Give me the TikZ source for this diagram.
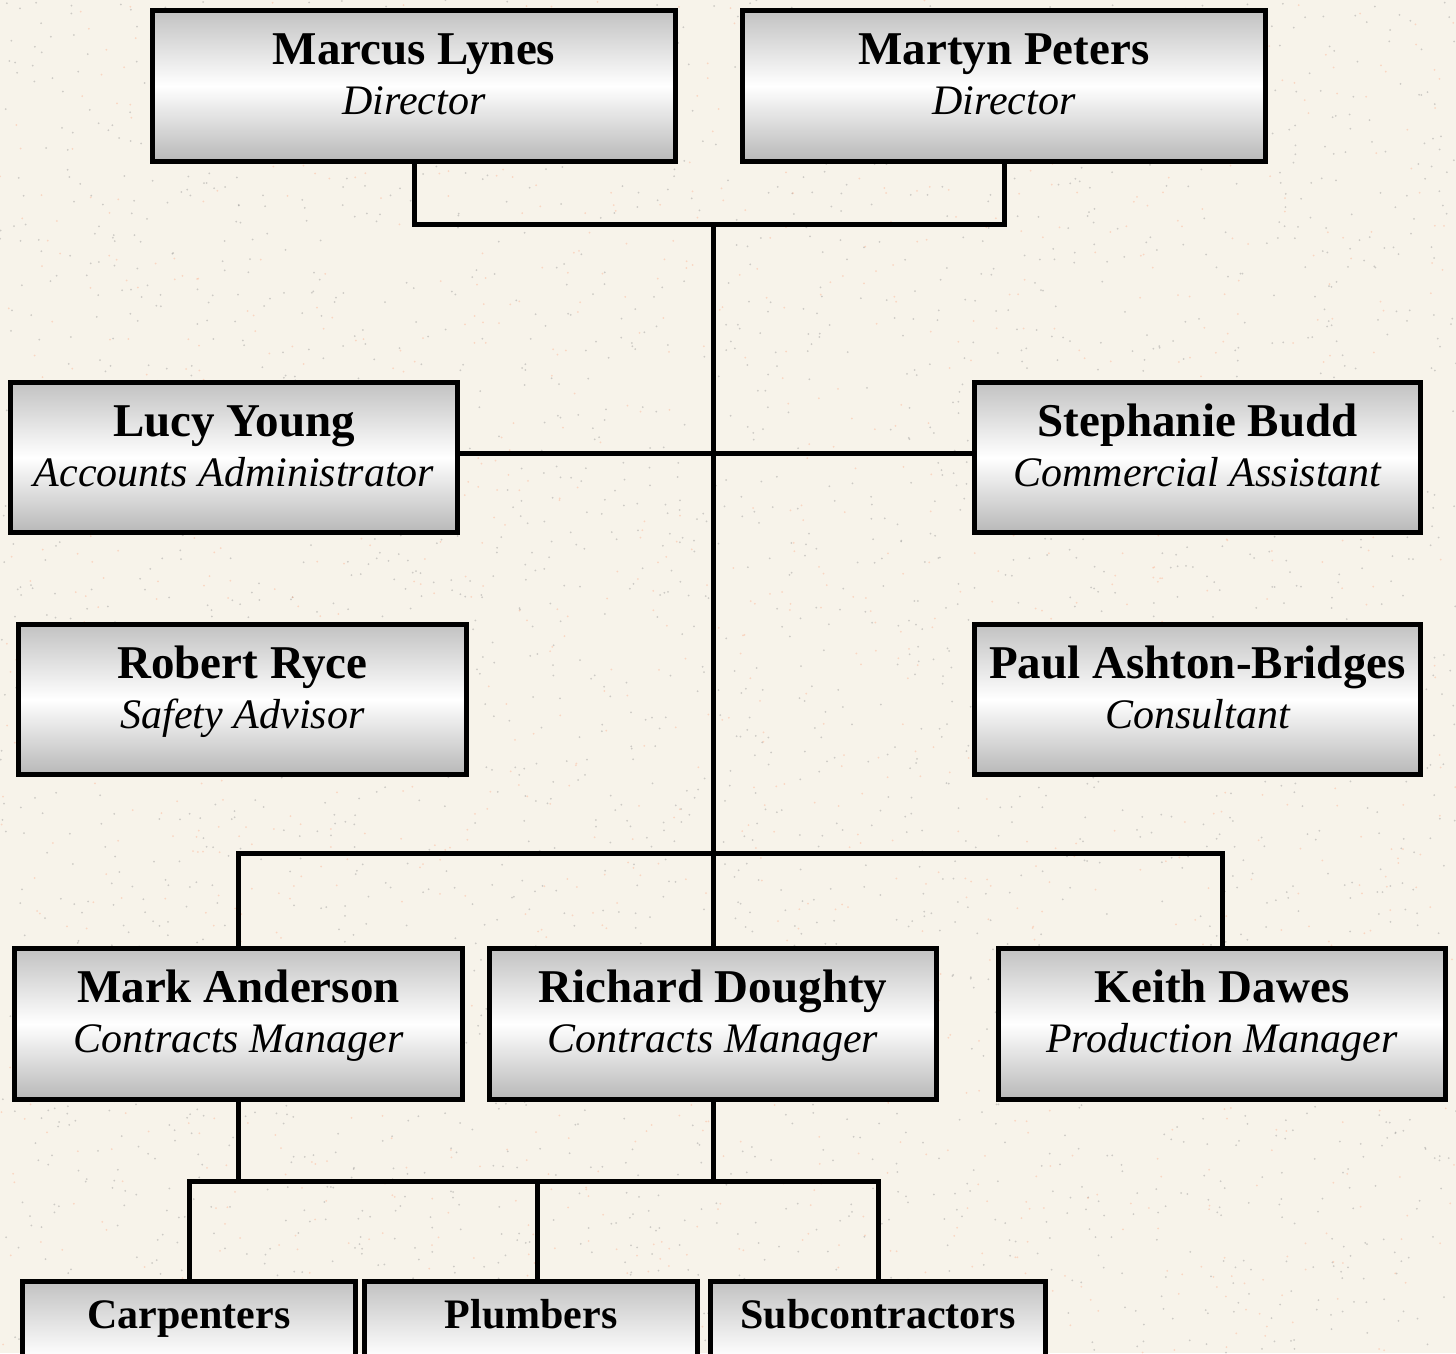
\documentclass[tikz,border=0pt]{standalone}
\usepackage{fontspec}
\setmainfont{Liberation Serif}
\definecolor{bgpaper}{RGB}{247,243,234}
\tikzset{
  orgbox/.style={rectangle, draw=black, line width=5pt, inner sep=0pt,
    top color=black!24, bottom color=black!28, middle color=white},
  conn/.style={line width=5pt, black},
  nametext/.style={anchor=base, inner sep=0pt, font=\fontsize{47}{50}\selectfont\bfseries},
  roletext/.style={anchor=base, inner sep=0pt, font=\fontsize{42}{46}\selectfont\itshape},
  teamtext/.style={anchor=base, inner sep=0pt, font=\fontsize{42}{46}\selectfont\bfseries},
}
% id, x1, y1, x2, y2, name, role
\newcommand\orgperson[7]{%
  \node[orgbox, minimum width={#4-#2-5}, minimum height={#5-#3-5}] (#1) at ({(#2+#4)/2},{(#3+#5)/2}) {};
  \node[nametext] (#1n) at ([yshift=-56pt]#1.north) {#6};
  \node[roletext] (#1r) at ([yshift=-106pt]#1.north) {#7};
}
\newcommand\orgteam[6]{%
  \node[orgbox, minimum width={#4-#2-5}, minimum height={#5-#3-5}] (#1) at ({(#2+#4)/2},{(#3+#5)/2}) {};
  \node[teamtext] (#1n) at ([yshift=-49pt]#1.north) {#6};
}
\begin{document}
\begin{tikzpicture}[x=1pt,y=-1pt]
\useasboundingbox (0,0) rectangle (1456,1353);
\fill[bgpaper] (0,0) rectangle (1456,1353);
\begin{scope}
\clip (0,0) rectangle (1456,1353);
\pgfmathsetseed{42}
\foreach \i in {1,...,3000}{
  \fill[black!50, opacity=0.35] ({rnd*1456},{rnd*1353}) circle (1pt);
}
\pgfmathsetseed{7}
\foreach \i in {1,...,1500}{
  \fill[red!40!orange!60, opacity=0.3] ({rnd*1456},{rnd*1353}) circle (1pt);
}

% coordinates for connector joints
\coordinate (dirbus) at (713,224);
\coordinate (staffbus) at (713,453);
\coordinate (mgrbus) at (713,853);
\coordinate (teambus) at (713,1181);
\coordinate (plumbtap) at (537,1181);

\orgperson{ml}{150}{8}{678}{164}{Marcus Lynes}{Director}
\orgperson{mp}{740}{8}{1268}{164}{Martyn Peters}{Director}
\orgperson{ly}{8}{380}{460}{535}{Lucy Young}{Accounts Administrator}
\orgperson{sb}{972}{380}{1423}{535}{Stephanie Budd}{Commercial Assistant}
\orgperson{rr}{16}{622}{469}{777}{Robert Ryce}{Safety Advisor}
\orgperson{pab}{972}{622}{1423}{777}{Paul Ashton-Bridges}{Consultant}
\orgperson{ma}{12}{946}{465}{1102}{Mark Anderson}{Contracts Manager}
\orgperson{rd}{487}{946}{939}{1102}{Richard Doughty}{Contracts Manager}
\orgperson{kd}{996}{946}{1448}{1102}{Keith Dawes}{Production Manager}
\orgteam{cp}{20}{1279}{358}{1435}{Carpenters}
\orgteam{pl}{362}{1279}{700}{1435}{Plumbers}
\orgteam{sc}{708}{1279}{1048}{1435}{Subcontractors}

\begin{scope}[conn]
\draw (ml.south) |- (dirbus) -| (mp.south);
\draw (dirbus) -- (rd.north);
\draw (ly.east |- staffbus) -- (sb.west |- staffbus);
\draw (ma.north) |- (mgrbus) -| (kd.north);
\draw (ma.south) |- (teambus);
\draw (rd.south) -- (teambus);
\draw (cp.north) |- (teambus) -| (sc.north);
\draw (plumbtap) -- (plumbtap |- pl.north);
\end{scope}
\end{scope}
\end{tikzpicture}
\end{document}
